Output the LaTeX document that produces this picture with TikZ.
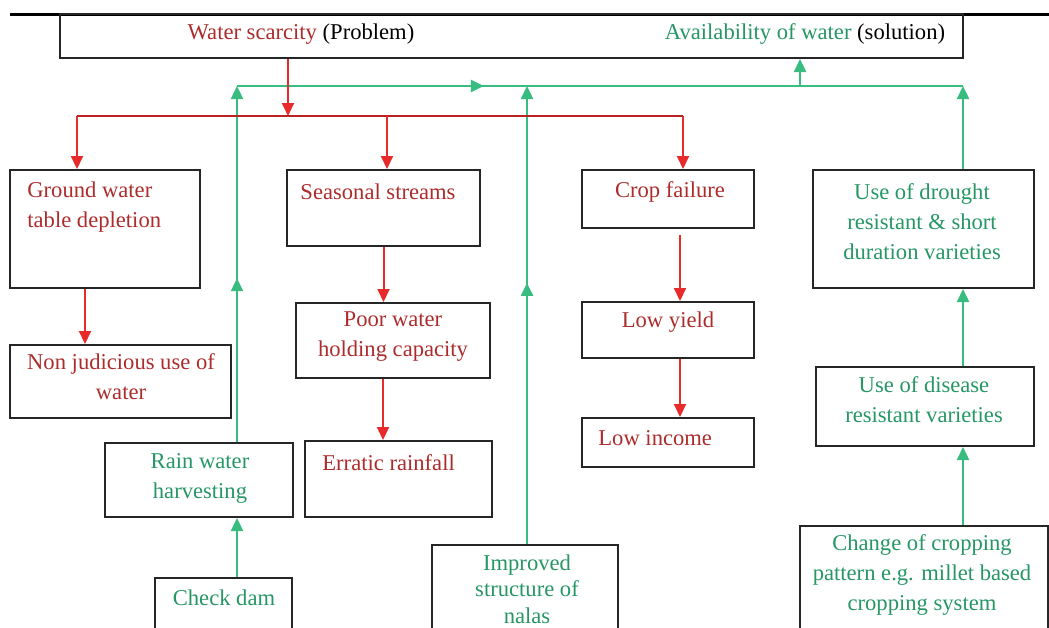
\documentclass[tikz,border=0pt]{standalone}
\usepackage{fontspec}
\setmainfont{Liberation Serif}
\usetikzlibrary{fit,arrows.meta,decorations.markings}

\definecolor{probtext}{RGB}{172,44,44}
\definecolor{soltext}{RGB}{38,150,100}
\definecolor{redline}{RGB}{232,42,42}
\definecolor{greenline}{RGB}{56,188,128}

\tikzset{
  box/.style={draw=black!85, line width=1pt, inner sep=0pt},
  txt/.style={inner sep=0pt, align=center, font=\fontsize{11.3}{15}\selectfont},
  ptxt/.style={txt, text=probtext},
  stxt/.style={txt, text=soltext},
  redarr/.style={draw=redline, line width=1pt, -{Triangle[width=6pt,length=6.5pt]}},
  greenarr/.style={draw=greenline, line width=1.2pt, -{Triangle[width=6pt,length=6.5pt]}},
  midtip/.style={postaction={decorate}, decoration={markings,
    mark=at position #1 with {\arrow{Triangle[width=6pt,length=6.5pt]}}}}
}

\begin{document}
\begin{tikzpicture}[x=0.5pt, y=-0.5pt, line cap=butt]

\useasboundingbox (0,0) rectangle (1049,627);
\clip (0,0) rectangle (1049,627);

% ---------------------------
% Title bar
% ---------------------------
\draw[line width=1.5pt] (10,14) -- (1049,14);
\node[box, fit={(60,14) (963,58)}] (top) {};
\node[txt, anchor=center] (top-p) at (301,34) {\textcolor{probtext}{Water scarcity} (Problem)};
\node[txt, anchor=center] (top-s) at (805,34) {\textcolor{soltext}{Availability of water} (solution)};

% ---------------------------
% Problem boxes (red)
% ---------------------------
\node[box, fit={(10,170) (200,288)}] (gw) {};
\node[ptxt, anchor=west, align=left] (gw-t) at (27,207) {Ground water\\table depletion};

\node[box, fit={(10,345) (231,418)}] (nj) {};
\node[ptxt] (nj-t) at (121,377) {Non judicious use of\\water};

\node[box, fit={(287,170) (480,246)}] (ss) {};
\node[ptxt] (ss-t) at (378,192) {Seasonal streams};

\node[box, fit={(296,303) (490,378)}] (pw) {};
\node[ptxt] (pw-t) at (393,337) {Poor water\\holding capacity};

\node[box, fit={(305,441) (492,517)}] (er) {};
\node[ptxt, anchor=west] (er-t) at (322,463) {Erratic rainfall};

\node[box, fit={(582,170) (754,228)}] (cf) {};
\node[ptxt] (cf-t) at (670,192) {Crop failure};

\node[box, fit={(582,302) (754,358)}] (ly) {};
\node[ptxt] (ly-t) at (668,322) {Low yield};

\node[box, fit={(582,418) (754,467)}] (li) {};
\node[ptxt, anchor=west] (li-t) at (598,438) {Low income};

% ---------------------------
% Solution boxes (green)
% ---------------------------
\node[box, fit={(105,443) (293,517)}] (rw) {};
\node[stxt] (rw-t) at (200,478) {Rain water\\harvesting};

\node[box, fit={(155,578) (292,660)}] (cd) {};
\node[stxt] (cd-t) at (224,598) {Check dam};

\node[box, fit={(432,545) (618,660)}] (im) {};
\node[stxt, font=\fontsize{11.3}{13.3}\selectfont] (im-t) at (527,589) {Improved\\structure of\\nalas};

\node[box, fit={(813,170) (1034,288)}] (ud) {};
\node[stxt] (ud-t) at (922,222) {Use of drought\\resistant \& short\\duration varieties};

\node[box, fit={(816,367) (1034,446)}] (dr) {};
\node[stxt] (dr-t) at (924,400) {Use of disease\\resistant varieties};

\node[box, fit={(800,526) (1048,660)}] (cp) {};
\node[stxt] (cp-t) at (922,575) {Change of cropping\\pattern e.g. millet based\\cropping system};

% ---------------------------
% Junction points
% ---------------------------
\coordinate (rj) at (288,116);
\coordinate (rl) at (77,116);
\coordinate (rs) at (387,116);
\coordinate (rr) at (683,116);
\coordinate (gl) at (237,86);
\coordinate (gm) at (527,86);
\coordinate (ga) at (800,86);
\coordinate (gr) at (963,86);

% ---------------------------
% Green connectors (solutions)
% ---------------------------
\draw[draw=greenline, line width=1.2pt, midtip=0.34] (gl) -- (gr);
\draw[greenarr] (ga) -- (ga |- top.south);
\draw[greenarr, midtip=0.46] (gl |- rw.north) -- (gl);
\draw[greenarr, midtip=0.57] (gm |- im.north) -- (gm);
\draw[greenarr] (gr |- ud.north) -- (gr);
\draw[greenarr] (gl |- cd.north) -- (gl |- rw.south);
\draw[greenarr] (gr |- cp.north) -- (gr |- dr.south);
\draw[greenarr] (gr |- dr.north) -- (gr |- ud.south);

% ---------------------------
% Red connectors (problems)
% ---------------------------
\draw[redarr] (top.south -| rj) -- (rj);
\draw[draw=redline!80!black, line width=0.8pt] (rl) -- (rr);
\draw[redarr] (rl) -- (rl |- gw.north);
\draw[redarr] (rs) -- (rs |- ss.north);
\draw[redarr] (rr) -- (rr |- cf.north);
\draw[redarr] ([xshift=-10pt]gw.south) -- ([xshift=-10pt]gw.south |- nj.north);
\draw[redarr] (ss.south) -- (ss.south |- pw.north);
\draw[redarr] ([xshift=-5pt]pw.south) -- ([xshift=-5pt]pw.south |- er.north);
\draw[redarr, shorten <=3pt] ([xshift=6pt]cf.south) -- ([xshift=6pt]cf.south |- ly.north);
\draw[redarr] ([xshift=6pt]ly.south) -- ([xshift=6pt]ly.south |- li.north);

\end{tikzpicture}
\end{document}
